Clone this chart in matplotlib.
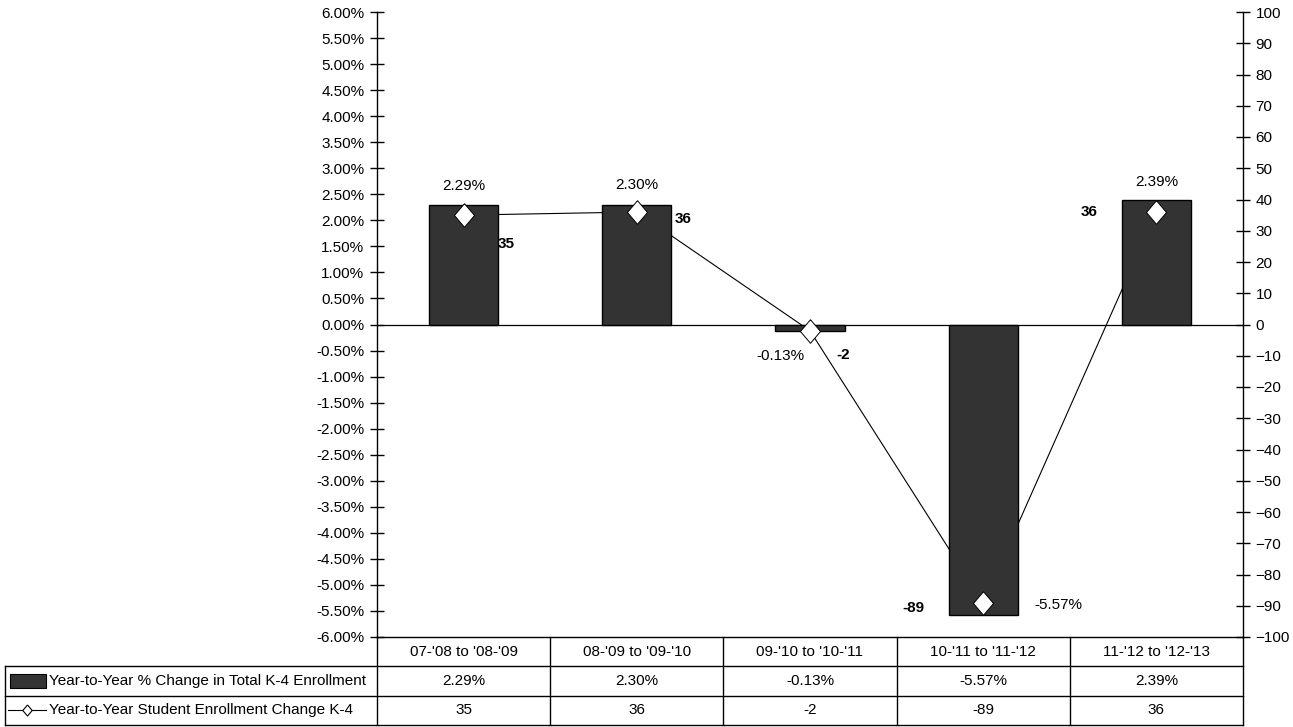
import matplotlib.pyplot as plt
import numpy as np
from matplotlib.lines import Line2D
from matplotlib.patches import Rectangle

plt.rcParams['font.family'] = ['Liberation Sans', 'DejaVu Sans']
plt.rcParams['font.size'] = 11

# Datos
categorias = ["07-'08 to '08-'09", "08-'09 to '09-'10", "09-'10 to '10-'11",
              "10-'11 to '11-'12", "11-'12 to '12-'13"]
cambio_pct = [2.29, 2.30, -0.13, -5.57, 2.39]
cambio_alumnos = [35, 36, -2, -89, 36]
serie_barras = 'Year-to-Year % Change in Total K-4 Enrollment'
serie_linea = 'Year-to-Year Student Enrollment Change K-4'

# Desplazamientos de las etiquetas (pixeles)
off_barras = [(0, 19), (0, 20), (-30, -25), (75, 10), (0, 18)]
off_linea = [(43, -29), (46, -7), (33, -24), (-70, -5), (-67, 0)]

# Rombo algo más alto que ancho
rombo = [(0, 1), (0.85, 0), (0, -1), (-0.85, 0), (0, 1)]

W, H = 1293, 727
fig = plt.figure(figsize=(W / 100, H / 100), dpi=100)
x0, x1, ytop, ybot = 377, 1243, 12, 637
ax = fig.add_axes([x0 / W, 1 - ybot / H, (x1 - x0) / W, (ybot - ytop) / H])
ax2 = ax.twinx()
ax.set_zorder(ax2.get_zorder() + 1)
ax.patch.set_visible(False)
x = np.arange(len(categorias))

# Barras
ax.bar(x, cambio_pct, width=0.4, color='#333333', edgecolor='black', linewidth=1, zorder=2)
ax.axhline(0, color='black', linewidth=0.9, zorder=1)
ax.set_xlim(-0.5, len(categorias) - 0.5)
ax.set_ylim(-6, 6)
ax.set_yticks(np.arange(-6, 6.01, 0.5))
ax.set_yticklabels([f'{v:.2f}%' for v in np.arange(-6, 6.01, 0.5)])
ax.set_xticks([])
ax.tick_params(axis='y', direction='inout', length=10, width=1, pad=4)
for s in ['top', 'bottom', 'right']:
    ax.spines[s].set_visible(False)
ax.spines['left'].set_linewidth(1)

for i, v in enumerate(cambio_pct):
    ax.annotate(f'{v:.2f}%', (i, v), xytext=off_barras[i], textcoords='offset pixels',
                ha='center', va='center')

# Eje secundario
ax2.set_ylim(-100, 100)
ax2.set_yticks(np.arange(-100, 101, 10))
ax2.tick_params(axis='y', direction='inout', length=10, width=1, pad=4)
for s in ['top', 'bottom', 'left']:
    ax2.spines[s].set_visible(False)
ax2.spines['right'].set_linewidth(1)

# Linea detrás de las barras, rombos delante
ax.plot(x, cambio_alumnos, color='black', linewidth=0.8, zorder=1.5,
        transform=ax2.transData)
ax.plot(x, cambio_alumnos, linestyle='none', marker=rombo, markersize=17,
        markerfacecolor='white', markeredgecolor='black', markeredgewidth=0.7,
        zorder=3, transform=ax2.transData)

for i, v in enumerate(cambio_alumnos):
    ax2.annotate(f'{v}', (i, v), xytext=off_linea[i], textcoords='offset pixels',
                 ha='center', va='center', fontweight='bold')

# Tabla de datos
tx0, tbot = 5, 725
unidad = (x1 - x0) / len(categorias)
izq = -0.5 - (x0 - tx0) / unidad
tab = fig.add_axes([tx0 / W, 1 - tbot / H, (x1 - tx0) / W, (tbot - ybot) / H])
tab.set_xlim(izq, len(categorias) - 0.5)
tab.set_ylim(3, 0)
tab.axis('off')
filas = [0, 1, 2, 3]
lw = 1
tab.plot([-0.5, len(categorias) - 0.5], [0, 0], color='black', lw=lw, clip_on=False)
for r in filas[1:]:
    tab.plot([izq, len(categorias) - 0.5], [r, r], color='black', lw=lw, clip_on=False)
tab.plot([izq, izq], [1, 3], color='black', lw=lw, clip_on=False)
for c in np.arange(len(categorias) + 1) - 0.5:
    tab.plot([c, c], [0, 3], color='black', lw=lw, clip_on=False)

for i, cat in enumerate(categorias):
    tab.text(i, 0.5, cat, ha='center', va='center')
    tab.text(i, 1.5, f'{cambio_pct[i]:.2f}%', ha='center', va='center')
    tab.text(i, 2.5, f'{cambio_alumnos[i]}', ha='center', va='center')

px = 1 / unidad
tab.text(izq + 44 * px, 1.5, serie_barras, ha='left', va='center')
tab.text(izq + 44 * px, 2.5, serie_linea, ha='left', va='center')
tab.add_patch(Rectangle((izq + 5 * px, 1.27), 36 * px, 0.46, facecolor='#333333',
                        edgecolor='black', lw=0.8))
tab.add_line(Line2D([izq + 3 * px, izq + 41 * px], [2.5, 2.5], color='black', lw=0.8))
tab.plot([izq + 22 * px], [2.5], marker=rombo, markersize=8, markerfacecolor='white',
         markeredgecolor='black', markeredgewidth=0.8)

fig.savefig('out.png', dpi=100)
